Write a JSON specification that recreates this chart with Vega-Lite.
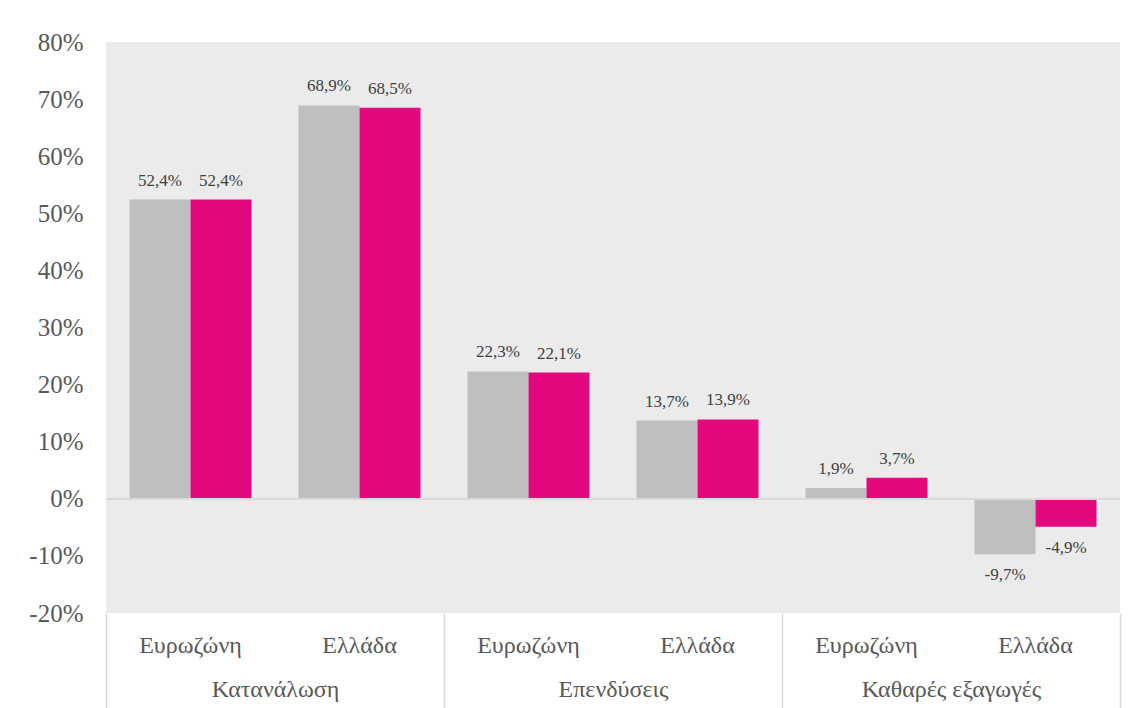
{
  "$schema": "https://vega.github.io/schema/vega-lite/v6.json",
  "width": 1014,
  "height": 571,
  "autosize": {"type": "none"},
  "padding": {"left": 106, "top": 42, "right": 15, "bottom": 95},
  "background": "white",
  "config": {
    "view": {"fill": "#EBEBEB", "stroke": null},
    "font": "Liberation Serif",
    "locale": {"number": {"decimal": ",", "thousands": ".", "grouping": [3], "currency": ["", " €"], "minus": "-"}},
    "axis": {"labelFont": "Liberation Serif", "labelColor": "#595959", "grid": false, "domain": false, "title": null}
  },
  "data": {
    "values": [
      {"group": "Κατανάλωση", "cat": "Ευρωζώνη", "key": "1|Ευρωζώνη", "series": "s1", "value": 0.524},
      {"group": "Κατανάλωση", "cat": "Ευρωζώνη", "key": "1|Ευρωζώνη", "series": "s2", "value": 0.524},
      {"group": "Κατανάλωση", "cat": "Ελλάδα", "key": "2|Ελλάδα", "series": "s1", "value": 0.689},
      {"group": "Κατανάλωση", "cat": "Ελλάδα", "key": "2|Ελλάδα", "series": "s2", "value": 0.685},
      {"group": "Επενδύσεις", "cat": "Ευρωζώνη", "key": "3|Ευρωζώνη", "series": "s1", "value": 0.223},
      {"group": "Επενδύσεις", "cat": "Ευρωζώνη", "key": "3|Ευρωζώνη", "series": "s2", "value": 0.221},
      {"group": "Επενδύσεις", "cat": "Ελλάδα", "key": "4|Ελλάδα", "series": "s1", "value": 0.137},
      {"group": "Επενδύσεις", "cat": "Ελλάδα", "key": "4|Ελλάδα", "series": "s2", "value": 0.139},
      {"group": "Καθαρές εξαγωγές", "cat": "Ευρωζώνη", "key": "5|Ευρωζώνη", "series": "s1", "value": 0.019},
      {"group": "Καθαρές εξαγωγές", "cat": "Ευρωζώνη", "key": "5|Ευρωζώνη", "series": "s2", "value": 0.037},
      {"group": "Καθαρές εξαγωγές", "cat": "Ελλάδα", "key": "6|Ελλάδα", "series": "s1", "value": -0.097},
      {"group": "Καθαρές εξαγωγές", "cat": "Ελλάδα", "key": "6|Ελλάδα", "series": "s2", "value": -0.049}
    ]
  },
  "layer": [
    {
      "encoding": {
        "x": {
          "field": "key", "type": "nominal", "sort": null,
          "scale": {"paddingInner": 0.278, "paddingOuter": 0.139},
          "axis": {"orient": "bottom", "labelExpr": "split(datum.label, '|')[1]", "ticks": false, "labelAngle": 0, "labelFontSize": 24, "labelPadding": 20}
        },
        "y": {
          "field": "value", "type": "quantitative",
          "scale": {"domain": [-0.2, 0.8], "nice": false, "zero": false},
          "axis": {"format": ".0%", "values": [-0.2, -0.1, 0, 0.1, 0.2, 0.3, 0.4, 0.5, 0.6, 0.7, 0.8], "ticks": false, "labelFontSize": 25, "labelPadding": 23}
        }
      },
      "layer": [
        {
          "mark": {"type": "bar"},
          "encoding": {
            "xOffset": {"field": "series", "type": "nominal", "scale": {"paddingInner": 0, "paddingOuter": 0}},
            "color": {"field": "series", "type": "nominal", "scale": {"domain": ["s1", "s2"], "range": ["#BFBFBF", "#E4087F"]}, "legend": null}
          }
        },
        {
          "mark": {"type": "rule", "color": "#D9D9D9", "strokeWidth": 1.5},
          "encoding": {"y": {"datum": 0}, "x": null}
        },
        {
          "transform": [{"filter": "datum.value >= 0"}],
          "mark": {"type": "text", "baseline": "middle", "dy": -19, "fontSize": 17, "color": "#404040"},
          "encoding": {
            "xOffset": {"field": "series", "type": "nominal", "scale": {"paddingInner": 0, "paddingOuter": 0}},
            "text": {"field": "value", "type": "quantitative", "format": ".1%"}
          }
        },
        {
          "transform": [{"filter": "datum.value < 0"}],
          "mark": {"type": "text", "baseline": "middle", "dy": 21, "fontSize": 17, "color": "#404040"},
          "encoding": {
            "xOffset": {"field": "series", "type": "nominal", "scale": {"paddingInner": 0, "paddingOuter": 0}},
            "text": {"field": "value", "type": "quantitative", "format": ".1%"}
          }
        }
      ]
    },
    {
      "mark": {"type": "rect", "opacity": 0},
      "encoding": {
        "x": {
          "field": "group", "type": "nominal", "sort": null,
          "scale": {"paddingInner": 0, "paddingOuter": 0},
          "axis": {"orient": "bottom", "tickBand": "extent", "ticks": true, "tickSize": 95, "tickColor": "#D9D9D9", "tickWidth": 1.5, "labelAngle": 0, "labelFontSize": 24, "labelPadding": -31}
        }
      }
    }
  ],
  "resolve": {"scale": {"x": "independent"}, "axis": {"x": "independent"}}
}
